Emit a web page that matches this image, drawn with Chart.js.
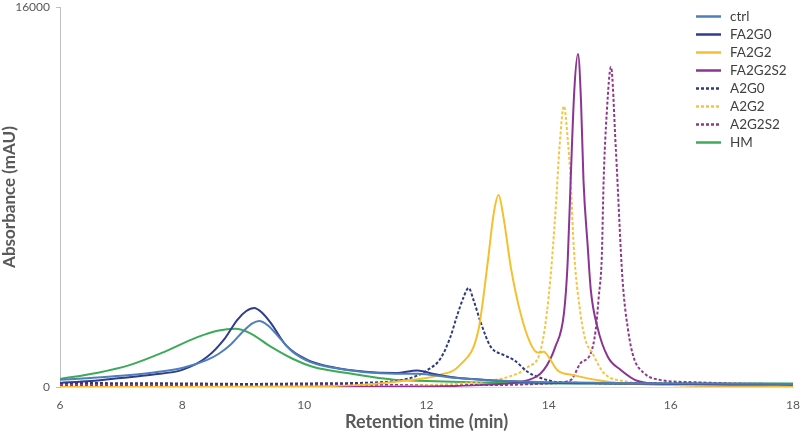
<!DOCTYPE html>
<html>
<head>
<meta charset="utf-8">
<script src="https://cdn.jsdelivr.net/npm/chart.js@4.4.1/dist/chart.umd.min.js"></script>
<style>
  html, body { margin: 0; padding: 0; background: #fff; }
  #wrap { width: 800px; height: 431px; position: relative; }
</style>
</head>
<body>
<div id="wrap"><canvas id="chart"></canvas></div>
<script>
// retention time (min) / absorbance (mAU)
const ctrlX = [6, 6.5, 7, 7.5, 8, 8.4, 8.6, 8.8, 9.0, 9.15, 9.26, 9.4, 9.6, 9.8, 10.1, 10.5, 11, 11.5, 11.85, 12.4, 13.2, 14, 15, 16, 17, 18];
const ctrlY = [300, 380, 470, 600, 800, 1130, 1400, 1800, 2350, 2680, 2780, 2600, 2050, 1500, 1050, 800, 620, 560, 560, 400, 260, 200, 170, 150, 140, 130];

const fa2g0X = [6, 6.5, 7, 7.5, 8, 8.4, 8.7, 8.9, 9.05, 9.18, 9.3, 9.45, 9.7, 10.05, 10.45, 11, 11.5, 11.85, 12.1, 12.4, 13.2, 14, 15, 16, 17, 18];
const fa2g0Y = [170, 250, 380, 520, 720, 1250, 2050, 2820, 3200, 3330, 3150, 2700, 1750, 1140, 840, 640, 590, 700, 560, 420, 260, 180, 150, 130, 110, 100];

const fa2g2X = [6, 8, 10, 11, 11.6, 12.2, 12.55, 12.85, 13.0, 13.1, 13.18, 13.26, 13.38, 13.54, 13.7, 13.82, 13.92, 14.03, 14.14, 14.4, 15, 16, 17, 18];
const fa2g2Y = [0, 0, 20, 100, 250, 500, 930, 2400, 5200, 7300, 8080, 7150, 5050, 3100, 1850, 1450, 1480, 1140, 720, 500, 210, 80, 50, 40];

const fa2g2s2X = [6, 10, 12, 13, 13.66, 13.92, 14.11, 14.25, 14.31, 14.36, 14.42, 14.48, 14.53, 14.57, 14.64, 14.69, 14.8, 14.97, 15.18, 15.46, 16, 17, 18];
const fa2g2s2Y = [0, 0, 20, 100, 290, 720, 1700, 3100, 5200, 8700, 12500, 14020, 12000, 8700, 5900, 4080, 2500, 1260, 720, 250, 100, 60, 50];

const a2g0X = [6, 8, 9.1, 10, 11.3, 11.74, 12.02, 12.23, 12.39, 12.5, 12.61, 12.69, 12.77, 12.89, 13.05, 13.26, 13.43, 13.66, 13.87, 14.14, 15, 16, 17, 18];
const a2g0Y = [170, 150, 130, 150, 210, 380, 720, 1200, 2100, 3000, 3800, 4170, 3660, 2700, 1700, 1350, 1140, 630, 380, 210, 160, 150, 130, 120];

const a2g2X = [6, 10, 12, 12.8, 13.33, 13.66, 13.87, 14.0, 14.11, 14.18, 14.25, 14.31, 14.36, 14.41, 14.52, 14.6, 14.72, 14.9, 15.3, 16, 17, 18];
const a2g2Y = [0, 0, 80, 200, 420, 840, 1560, 3800, 7300, 10200, 11830, 10500, 8700, 5900, 3100, 2000, 1400, 600, 220, 80, 50, 40];

const a2g2s2X = [6, 10, 13, 14, 14.36, 14.52, 14.69, 14.77, 14.82, 14.87, 14.9, 14.95, 15.02, 15.1, 15.21, 15.3, 15.39, 15.56, 15.84, 16.4, 17, 18];
const a2g2s2Y = [80, 80, 80, 150, 290, 1000, 1430, 2400, 3800, 5500, 8700, 11500, 13470, 10000, 4500, 2400, 1260, 590, 290, 200, 150, 120];

const hmX = [6, 6.6, 7.15, 7.7, 8.25, 8.6, 8.87, 9.1, 9.45, 9.8, 10.15, 10.7, 11.5, 12, 13, 14, 15, 16, 17, 18];
const hmY = [340, 590, 930, 1470, 2100, 2380, 2450, 2280, 1700, 1200, 840, 590, 300, 250, 180, 150, 150, 150, 150, 150];

const xTicks = [6, 8, 10, 12, 14, 16, 18];
const yTicks = [0, 16000];

const FONT = 'Lato, "Open Sans", sans-serif';

function pts(xs, ys) {
  return xs.map((x, i) => ({ x: x, y: ys[i] }));
}

function series(label, xs, ys, color, dashed) {
  return {
    label: label,
    data: pts(xs, ys),
    borderColor: color,
    backgroundColor: color,
    borderWidth: 2,
    borderDash: dashed ? [3, 2] : [],
    pointRadius: 0,
    fill: false,
    cubicInterpolationMode: 'monotone'
  };
}

// legend drawn inside the plot, top right
const insideLegend = {
  id: 'insideLegend',
  afterDraw(chart) {
    const ctx = chart.ctx;
    ctx.save();
    ctx.font = '13.5px ' + FONT;
    ctx.textBaseline = 'middle';
    chart.data.datasets.forEach((ds, i) => {
      const y = 16.5 + i * 18;
      ctx.strokeStyle = ds.borderColor;
      ctx.lineWidth = 2.5;
      ctx.setLineDash(ds.borderDash.length ? [3, 2] : []);
      ctx.beginPath();
      ctx.moveTo(696, y);
      ctx.lineTo(721, y);
      ctx.stroke();
      ctx.setLineDash([]);
      ctx.fillStyle = '#404040';
      ctx.fillText(ds.label, 730, y);
    });
    ctx.restore();
  }
};

new Chart(document.getElementById('chart'), {
  type: 'line',
  data: {
    datasets: [
      series('ctrl', ctrlX, ctrlY, '#4f7fba', false),
      series('FA2G0', fa2g0X, fa2g0Y, '#2f3d8c', false),
      series('FA2G2', fa2g2X, fa2g2Y, '#f5c02e', false),
      series('FA2G2S2', fa2g2s2X, fa2g2s2Y, '#8c3491', false),
      series('A2G0', a2g0X, a2g0Y, '#2f3a80', true),
      series('A2G2', a2g2X, a2g2Y, '#f6c443', true),
      series('A2G2S2', a2g2s2X, a2g2s2Y, '#8e3a88', true),
      series('HM', hmX, hmY, '#3daa58', false)
    ]
  },
  options: {
    responsive: true,
    maintainAspectRatio: false,
    animation: false,
    layout: { padding: { top: 7, right: 7, left: 0, bottom: 0 } },
    plugins: {
      legend: { display: false },
      tooltip: { enabled: false }
    },
    scales: {
      x: {
        type: 'linear',
        min: 6,
        max: 18,
        afterFit: s => { s.height = 44; s.paddingLeft = 0; s.paddingRight = 0; },
        afterBuildTicks: s => { s.ticks = xTicks.map(v => ({ value: v })); },
        grid: { display: true, drawOnChartArea: false, drawTicks: false },
        border: { display: true, color: '#d9d9d9' },
        ticks: {
          color: '#595959',
          padding: 11,
          font: { family: FONT, size: 12 },
          callback: v => String(v)
        },
        title: {
          display: true,
          text: 'Retention time (min)',
          color: '#595959',
          font: { family: FONT, size: 18, weight: 'bold' },
          padding: { top: 0, bottom: -2 }
        }
      },
      y: {
        min: 0,
        max: 16000,
        afterFit: s => { s.width = 60; s.paddingTop = 0; s.paddingBottom = 0; },
        afterBuildTicks: s => { s.ticks = yTicks.map(v => ({ value: v })); },
        grid: { display: true, drawOnChartArea: false, drawTicks: true, tickLength: 4, color: '#bfbfbf' },
        border: { display: true, color: '#bfbfbf' },
        ticks: {
          color: '#595959',
          padding: 6,
          font: { family: FONT, size: 12 },
          callback: v => String(v)
        },
        title: {
          display: true,
          text: 'Absorbance (mAU)',
          color: '#595959',
          font: { family: FONT, size: 17, weight: 'bold' },
          padding: { top: -1, bottom: 0 }
        }
      }
    }
  },
  plugins: [insideLegend]
});
</script>
</body>
</html>
